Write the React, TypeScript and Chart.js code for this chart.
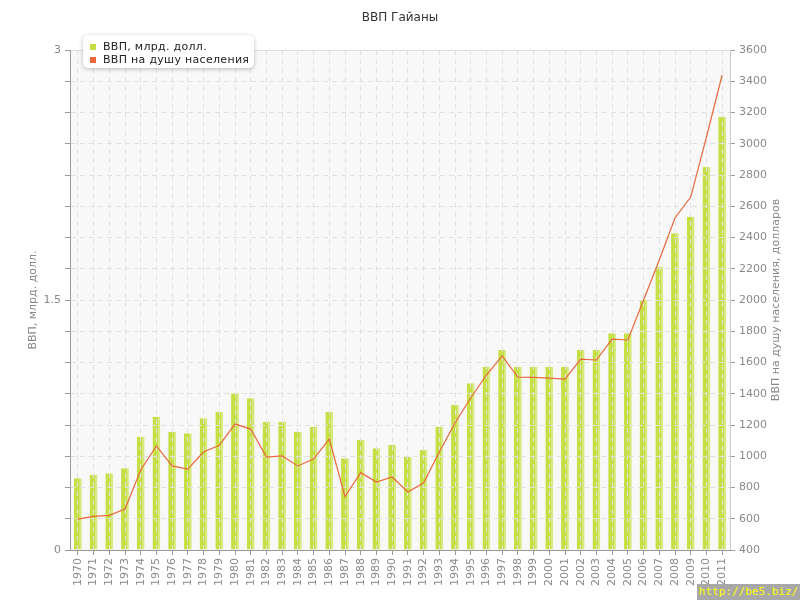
import React, { useEffect, useRef } from "react";
import { Chart, registerables } from "chart.js";

Chart.register(...registerables);

const years = [
  "1970", "1971", "1972", "1973", "1974", "1975", "1976", "1977", "1978", "1979",
  "1980", "1981", "1982", "1983", "1984", "1985", "1986", "1987", "1988", "1989",
  "1990", "1991", "1992", "1993", "1994", "1995", "1996", "1997", "1998", "1999",
  "2000", "2001", "2002", "2003", "2004", "2005", "2006", "2007", "2008", "2009",
  "2010", "2011",
];

const gdpBn = [
  0.43, 0.45, 0.46, 0.49, 0.68, 0.8, 0.71, 0.7, 0.79, 0.83,
  0.94, 0.91, 0.77, 0.77, 0.71, 0.74, 0.83, 0.55, 0.66, 0.61,
  0.63, 0.56, 0.6, 0.74, 0.87, 1.0, 1.1, 1.2, 1.1, 1.1,
  1.1, 1.1, 1.2, 1.2, 1.3, 1.3, 1.5, 1.7, 1.9, 2.0,
  2.3, 2.6,
];

const gdpPerCapita = [
  598, 615, 622, 662, 912, 1066, 938, 918, 1027, 1070,
  1206, 1174, 995, 1002, 938, 982, 1110, 742, 895, 835,
  867, 771, 829, 1027, 1213, 1373, 1520, 1642, 1507, 1505,
  1500, 1494, 1622, 1616, 1750, 1744, 2000, 2256, 2525, 2659,
  3043, 3440,
];

const leftLabelValues = [0, 1.5, 3];
const leftMin = 0;
const leftMax = 3;
const rightMin = 400;
const rightMax = 3600;
const rightStep = 200;

const TITLE = "ВВП Гайаны";
const LEFT_TITLE = "ВВП, млрд. долл.";
const RIGHT_TITLE = "ВВП на душу населения, долларов";
const BAR_LABEL = "ВВП, млрд. долл.";
const LINE_LABEL = "ВВП на душу населения";

const FONT = "'DejaVu Sans', sans-serif";
const TICK_COLOR = "#8a8a8a";
const BAR_COLOR = "#c6df45";
const LINE_COLOR = "#e8683c";
const GRID_COLOR = "#e0e0e0";

const bgPlugin = {
  id: "plotBg",
  beforeDraw(chart: any) {
    const { ctx, chartArea } = chart;
    if (!chartArea) return;
    ctx.save();
    ctx.fillStyle = "#f8f8f8";
    ctx.fillRect(chartArea.left, chartArea.top, chartArea.right - chartArea.left, chartArea.bottom - chartArea.top);
    ctx.strokeStyle = "#dddddd";
    ctx.lineWidth = 1;
    ctx.beginPath();
    ctx.moveTo(chartArea.left, chartArea.top + 0.5);
    ctx.lineTo(chartArea.right, chartArea.top + 0.5);
    ctx.stroke();
    ctx.restore();
  },
};

const overlayPlugin = {
  id: "overlay",
  beforeDatasetDraw(chart: any, args: any) {
    // the line series is drawn later, above the grid
    if (args.index === 0) return false;
    return true;
  },
  afterDraw(chart: any) {
    const { ctx, chartArea } = chart;
    if (!chartArea) return;
    const meta = chart.getDatasetMeta(0);
    if (meta && meta.controller) {
      ctx.save();
      ctx.beginPath();
      ctx.rect(chartArea.left, chartArea.top - 2, chartArea.right - chartArea.left, chartArea.bottom - chartArea.top + 2);
      ctx.clip();
      meta.controller.draw();
      ctx.restore();
    }
    ctx.save();
    ctx.translate(776, (chartArea.top + chartArea.bottom) / 2);
    ctx.rotate(-Math.PI / 2);
    ctx.font = "11px " + FONT;
    ctx.fillStyle = TICK_COLOR;
    ctx.textAlign = "center";
    ctx.textBaseline = "middle";
    ctx.fillText(RIGHT_TITLE, 0, 0);
    ctx.restore();
  },
};

export default function App() {
  const canvasRef = useRef<HTMLCanvasElement | null>(null);

  useEffect(() => {
    document.body.style.margin = "0";
    const canvas = canvasRef.current;
    if (!canvas) return;
    const nSteps = 16;
    const chart = new Chart(canvas, {
      type: "bar",
      data: {
        labels: years,
        datasets: [
          {
            type: "line",
            label: LINE_LABEL,
            data: gdpPerCapita,
            yAxisID: "yRight",
            borderColor: LINE_COLOR,
            backgroundColor: LINE_COLOR,
            borderWidth: 1.2,
            pointRadius: 0,
            tension: 0,
            order: 0,
          } as any,
          {
            type: "bar",
            label: BAR_LABEL,
            data: gdpBn,
            yAxisID: "yLeft",
            backgroundColor: BAR_COLOR,
            borderColor: "#d6ea82",
            borderWidth: { right: 2 } as any,
            categoryPercentage: 1,
            barPercentage: 0.5,
            order: 1,
          } as any,
        ],
      },
      options: {
        animation: false,
        responsive: true,
        maintainAspectRatio: false,
        layout: { padding: 0 },
        plugins: {
          legend: { display: false },
          tooltip: { enabled: false },
          title: {
            display: true,
            text: TITLE,
            color: "#333333",
            font: { family: FONT, size: 12, weight: "normal" },
            padding: { top: 11, bottom: 24.6 },
          },
        },
        scales: {
          x: {
            type: "category",
            offset: true,
            grid: {
              z: 1,
              offset: false,
              color: GRID_COLOR,
              drawTicks: true,
              tickLength: 5,
              tickColor: "#999999",
              tickBorderDash: [],
            },
            border: { display: true, color: "#999999", dash: [5, 4], z: 2 },
            ticks: {
              color: TICK_COLOR,
              font: { family: FONT, size: 11 },
              minRotation: 90,
              maxRotation: 90,
              autoSkip: false,
              padding: 3,
            },
            afterFit(scale: any) {
              scale.height = 50;
            },
          },
          yLeft: {
            type: "linear",
            position: "left",
            min: leftMin,
            max: leftMax,
            afterBuildTicks(scale: any) {
              const t = [];
              for (let i = 0; i <= nSteps; i++) t.push({ value: leftMin + ((leftMax - leftMin) * i) / nSteps });
              scale.ticks = t;
            },
            grid: {
              z: 1,
              color: GRID_COLOR,
              tickLength: 5,
              tickColor: "#999999",
              tickBorderDash: [],
            },
            border: { display: true, color: "#999999", dash: [5, 4], z: 2 },
            ticks: {
              color: TICK_COLOR,
              font: { family: FONT, size: 11 },
              padding: 4,
              callback(value: any) {
                const v = Number(value);
                return leftLabelValues.some((l) => Math.abs(l - v) < 1e-9) ? String(v) : "";
              },
            },
            title: {
              display: true,
              text: LEFT_TITLE,
              color: TICK_COLOR,
              font: { family: FONT, size: 11 },
              padding: { top: 27, bottom: 0 },
            },
            afterFit(scale: any) {
              scale.width = 70;
            },
          },
          yRight: {
            type: "linear",
            position: "right",
            min: rightMin,
            max: rightMax,
            grid: {
              drawOnChartArea: false,
              tickLength: 5,
              tickColor: "#999999",
            },
            border: { display: true, color: "#cccccc" },
            ticks: {
              stepSize: rightStep,
              color: TICK_COLOR,
              font: { family: FONT, size: 11 },
              padding: 4,
              callback(value: any) {
                return String(Math.round(Number(value)));
              },
            },
            afterFit(scale: any) {
              scale.width = 70;
            },
          },
        },
      } as any,
      plugins: [bgPlugin, overlayPlugin],
    });
    return () => chart.destroy();
  }, []);

  return (
    <div style={{ position: "relative", width: 800, height: 600, background: "#ffffff", fontFamily: FONT }}>
      <canvas ref={canvasRef} />
      <div
        style={{
          position: "absolute",
          left: 83,
          top: 35,
          width: 171,
          height: 33,
          background: "#ffffff",
          borderRadius: 5,
          boxShadow: "0 1px 4px rgba(0,0,0,0.25)",
          fontSize: 11,
          color: "#222222",
          letterSpacing: 0.3,
        }}
      >
        <div style={{ position: "absolute", left: 7, top: 5, display: "flex", alignItems: "center", whiteSpace: "nowrap" }}>
          <span style={{ display: "inline-block", width: 6, height: 6, background: BAR_COLOR, marginRight: 7 }} />
          <span>{BAR_LABEL}</span>
        </div>
        <div style={{ position: "absolute", left: 7, top: 18, display: "flex", alignItems: "center", whiteSpace: "nowrap" }}>
          <span style={{ display: "inline-block", width: 6, height: 6, background: LINE_COLOR, marginRight: 7 }} />
          <span>{LINE_LABEL}</span>
        </div>
      </div>
      <div
        style={{
          position: "absolute",
          left: 697,
          top: 584,
          width: 103,
          height: 16,
          background: "#a8a8a8",
          color: "#ffff00",
          fontFamily: "'DejaVu Sans Mono', monospace",
          fontSize: 11,
          lineHeight: "16px",
          textAlign: "center",
        }}
      >
        http://be5.biz/
      </div>
    </div>
  );
}
